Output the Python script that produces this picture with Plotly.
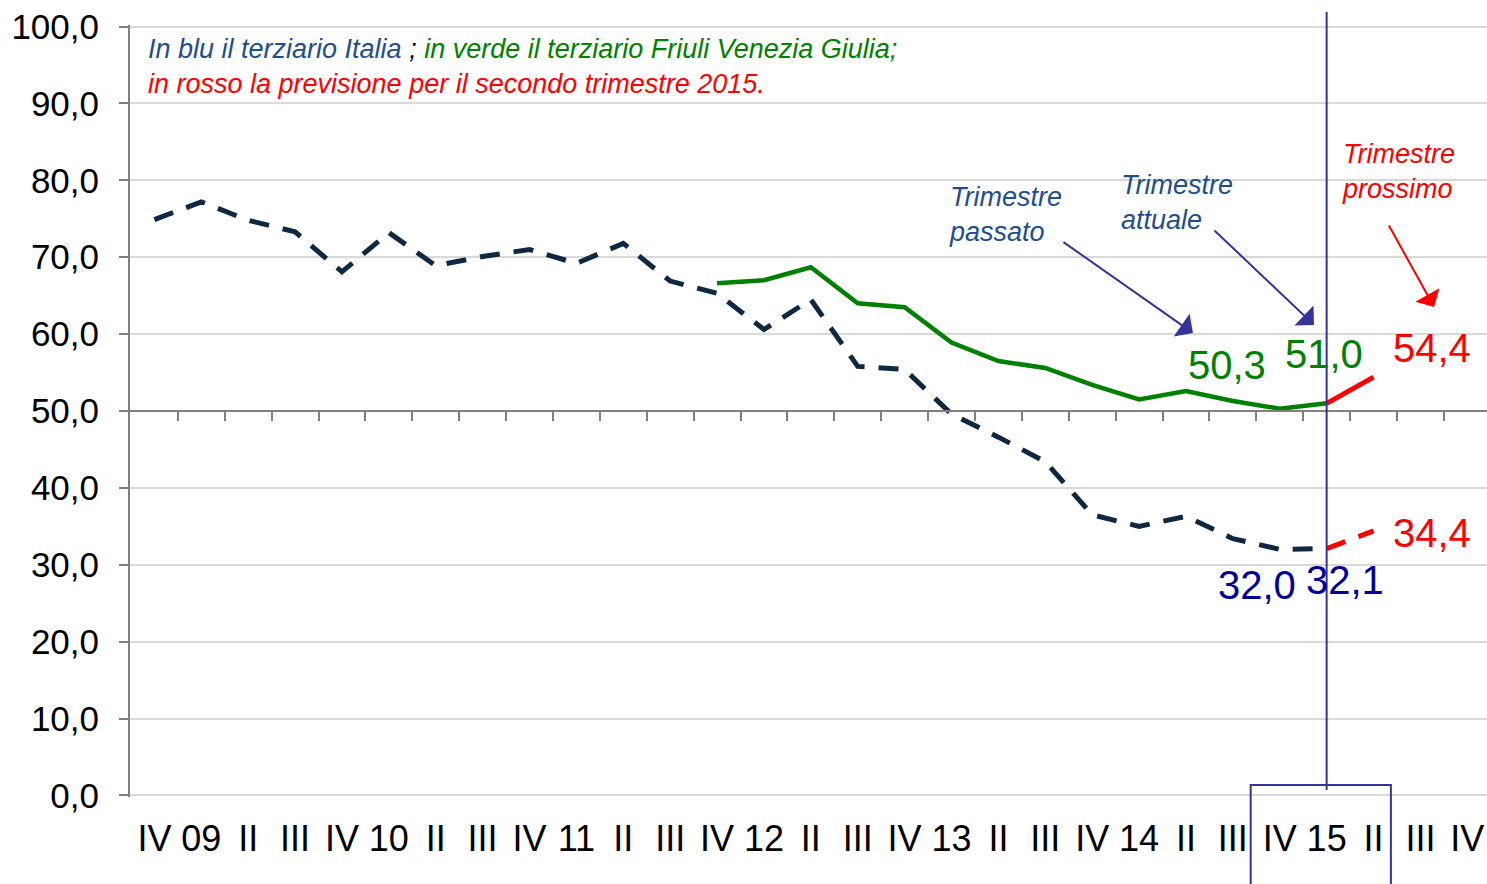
import plotly.graph_objects as go

# ---------------- data ----------------
categories = ["IV", "09", "II", "III", "IV", "10", "II", "III", "IV", "11",
              "II", "III", "IV", "12", "II", "III", "IV", "13", "II", "III",
              "IV", "14", "II", "III", "IV", "15", "II", "III", "IV"]

italia = [74.9, 77.2, 74.8, 73.3, 68.1, 73.2, 68.9, 70.1, 71.0, 69.2,
          71.8, 66.9, 65.3, 60.6, 64.5, 55.8, 55.4, 49.6, 46.6, 43.4,
          36.5, 35.0, 36.3, 33.4, 32.0, 32.1]

fvg = [None] * 12 + [66.6, 67.0, 68.7, 64.0, 63.5, 58.9, 56.5, 55.6,
                     53.4, 51.5, 52.6, 51.3, 50.3, 51.0]

prev_italia = [32.1, 34.4]
prev_fvg = [51.0, 54.4]

y_ticks = [0, 10, 20, 30, 40, 50, 60, 70, 80, 90, 100]

# ---------------- helpers ----------------
n = len(categories)
x_all = list(range(n))
x_hist = list(range(len(italia)))
cur = len(italia) - 1
x_prev = [cur, cur + 1]
x_range = [-0.52, n - 0.58]

def fmt(v):
    return f"{v:.1f}".replace(".", ",")

BLUE_LINE = "#0E2841"
GREEN = "#008000"
RED = "#FF0000"
NAVY = "#000099"
SLATE = "#333399"
TXT_BLUE = "#1F4E8C"
FONT = "Liberation Sans, Arial, sans-serif"

fig = go.Figure()

fig.add_trace(go.Scatter(x=x_hist, y=italia, mode="lines",
                         line=dict(color=BLUE_LINE, width=5, dash="20px,14px"),
                         hoverinfo="skip", showlegend=False))
fig.add_trace(go.Scatter(x=x_hist, y=fvg, mode="lines",
                         line=dict(color=GREEN, width=4.5),
                         hoverinfo="skip", showlegend=False))
fig.add_trace(go.Scatter(x=x_prev, y=prev_italia, mode="lines", xaxis="x2",
                         line=dict(color=RED, width=5, dash="20px,14px"),
                         hoverinfo="skip", showlegend=False))
fig.add_trace(go.Scatter(x=x_prev, y=prev_fvg, mode="lines", xaxis="x2",
                         line=dict(color=RED, width=5),
                         hoverinfo="skip", showlegend=False))

annotations = []

# data labels
def lab(x, y, color, xs, ys):
    annotations.append(dict(x=x, y=y, xref="x", yref="y", text=fmt(y),
                            showarrow=False, xanchor="center", yanchor="middle",
                            xshift=xs, yshift=ys,
                            font=dict(family=FONT, size=40, color=color)))

lab(cur - 1, fvg[cur - 1], GREEN, -53, 44)
lab(cur, fvg[cur], GREEN, -3, 49)
lab(cur + 1, prev_fvg[1], RED, 58, 29)
lab(cur + 1, prev_italia[1], RED, 58, -2)
lab(cur - 1, italia[cur - 1], NAVY, -23, -36)
lab(cur, italia[cur], NAVY, 18, -31)

# title lines
annotations.append(dict(
    x=0.0118, y=0.969, xref="paper", yref="paper", xanchor="left", yanchor="middle",
    showarrow=False,
    text=("<i><span style='color:%s'>In blu il terziario Italia</span> ; "
          "<span style='color:%s'>in verde il terziario Friuli Venezia Giulia;</span></i>")
         % (TXT_BLUE, GREEN),
    font=dict(family=FONT, size=27, color="#000000")))
annotations.append(dict(
    x=0.0118, y=0.9236, xref="paper", yref="paper", xanchor="left", yanchor="middle",
    showarrow=False,
    text="<i>in rosso la previsione per il secondo trimestre 2015.</i>",
    font=dict(family=FONT, size=27, color=RED)))

# "Trimestre" labels
for txt, xx, yy, col in [("Trimestre<br>passato", 0.602, 0.7545, TXT_BLUE),
                         ("Trimestre<br>attuale", 0.729, 0.770, TXT_BLUE),
                         ("Trimestre<br>prossimo", 0.892, 0.8096, RED)]:
    annotations.append(dict(x=xx, y=yy, xref="paper", yref="paper",
                            xanchor="left", yanchor="middle", align="left",
                            showarrow=False, text="<i>%s</i>" % txt,
                            font=dict(family=FONT, size=27, color=col)))

# arrows
for xx, yy, ax, ay, col in [(0.7833, 0.601, -131, -92, SLATE),
                            (0.8725, 0.6114, -101, -96, SLATE),
                            (0.961, 0.6347, -46, -83, RED)]:
    annotations.append(dict(x=xx, y=yy, xref="paper", yref="paper", text="",
                            showarrow=True, ax=ax, ay=ay, arrowhead=1,
                            arrowsize=2.3, arrowwidth=2, arrowcolor=col,
                            standoff=0, startstandoff=0))

shapes = [
    dict(type="line", xref="x", yref="paper", x0=cur, x1=cur,
         y0=0.009, y1=1.017, line=dict(color=SLATE, width=2)),
    dict(type="rect", xref="x", yref="paper", x0=cur - 1.62, x1=cur + 1.37,
         y0=-0.2, y1=0.0155, line=dict(color=SLATE, width=2),
         fillcolor="rgba(0,0,0,0)"),
]

fig.update_layout(
    width=1487, height=884,
    margin=dict(l=130, r=0, t=25, b=87),
    paper_bgcolor="white", plot_bgcolor="white",
    separators=", ",
    font=dict(family=FONT, color="black"),
    showlegend=False,
    annotations=annotations,
    shapes=shapes,
    xaxis=dict(range=x_range, tickmode="array", tickvals=x_all,
               ticktext=categories, showgrid=False, showline=False,
               zeroline=False, ticks="", tickfont=dict(size=36, color="black"),
               ticklabelstandoff=17, ticklabeloverflow="allow"),
    xaxis2=dict(range=x_range, overlaying="x", anchor="free",
                position=0.5, side="bottom", tickmode="array",
                tickvals=[i + 0.5 for i in range(n - 1)],
                ticks="outside", ticklen=9, tickwidth=2, tickcolor="#808080",
                showline=True, linecolor="#808080", linewidth=2,
                showticklabels=False, showgrid=False, zeroline=False),
    yaxis=dict(range=[-0.2, 100.2], tickmode="array", tickvals=y_ticks,
               tickformat=".1f", showgrid=True, gridcolor="#D9D9D9",
               gridwidth=2, showline=True, linecolor="#808080", linewidth=2,
               ticks="outside", ticklen=9, tickwidth=2, tickcolor="#808080",
               zeroline=False, tickfont=dict(size=35, color="black"),
               ticklabelstandoff=13, ticklabeloverflow="allow"),
)

# remove the default page margin so the 1487x884 figure fills the window
fig.write_html("out.html",
               config={"displayModeBar": False},
               post_script="document.body.style.margin='0';"
                           "document.body.style.overflow='hidden';")
